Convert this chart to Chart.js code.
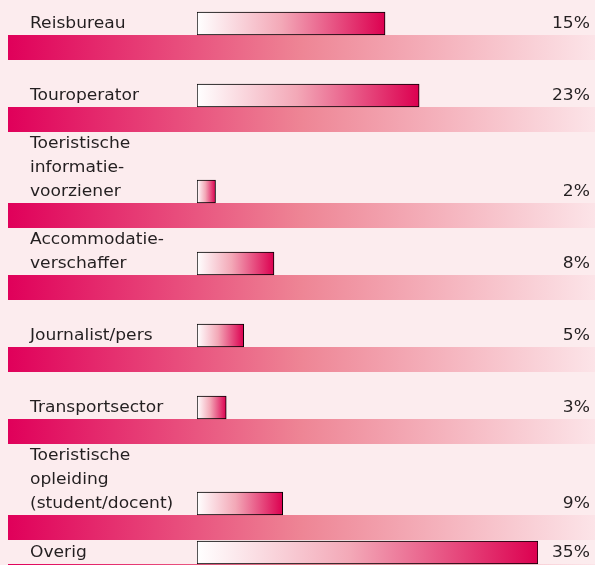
<!DOCTYPE html>
<html>
<head>
<meta charset="utf-8">
<script src="https://cdn.jsdelivr.net/npm/chart.js@4"></script>
<style>
  body { margin: 0; background: #fcecee; }
  #wrap { width: 595px; height: 565px; position: relative; }
</style>
</head>
<body>
<div id="wrap"><canvas id="chart"></canvas></div>
<script>
// categories (label lines as printed in the source)
const categories = [
  ['Reisbureau'],
  ['Touroperator'],
  ['Toeristische', 'informatie-', 'voorziener'],
  ['Accommodatie-', 'verschaffer'],
  ['Journalist/pers'],
  ['Transportsector'],
  ['Toeristische', 'opleiding', '(student/docent)'],
  ['Overig']
];
// bar lengths as measured in the picture (%)
const values = [19.3, 22.8, 1.9, 7.9, 4.8, 3.0, 8.8, 35];
// printed value labels
const pctLabels = ['15%', '23%', '2%', '8%', '5%', '3%', '9%', '35%'];

// row layout: a row grows with the number of label lines
const BAND = 25, BAR = 23;
const bottoms = [];
let yPos = 35;
categories.forEach((lines, i) => {
  if (i > 0) {
    const rowH = i === categories.length - 1 ? 24 : (lines.length >= 3 ? 71 : 47);
    yPos += BAND + rowH;
  }
  bottoms.push(yPos);
});
const centers = bottoms.map(b => b - BAR / 2);

function barFill(ctx) {
  const chart = ctx.chart;
  const xs = chart.scales.x;
  if (ctx.type !== 'data' || !xs) return '#e0004e';
  const x0 = xs.getPixelForValue(0);
  const x1 = xs.getPixelForValue(ctx.raw.x);
  if (!isFinite(x0) || !isFinite(x1) || x1 <= x0) return '#e0004e';
  const g = chart.ctx.createLinearGradient(x0, 0, x1, 0);
  g.addColorStop(0, '#ffffff');
  g.addColorStop(0.45, '#f3a8b7');
  g.addColorStop(1, '#dc0050');
  return g;
}

// wide text: the source font is an extended face
function wideText(c, text, x, y, align) {
  c.save();
  c.translate(x, y);
  c.scale(1.14, 1);
  c.textAlign = align;
  c.fillText(text, 0, 0);
  c.restore();
}

const rowDecor = {
  id: 'rowDecor',
  beforeDatasetsDraw(chart) {
    const c = chart.ctx;
    const ys = chart.scales.y;
    c.save();
    bottoms.forEach(b => {
      const top = ys.getPixelForValue(b);
      const g = c.createLinearGradient(8, 0, 595, 0);
      g.addColorStop(0, '#e0005a');
      g.addColorStop(0.5, '#ee8595');
      g.addColorStop(1, '#fce4e8');
      c.fillStyle = g;
      c.fillRect(8, top, 587, BAND);
    });
    c.restore();
  },
  afterDatasetsDraw(chart) {
    const c = chart.ctx;
    const ys = chart.scales.y;
    c.save();
    c.font = '15px "DejaVu Sans"';
    c.fillStyle = '#231f20';
    c.textBaseline = 'middle';
    categories.forEach((lines, i) => {
      const cy = ys.getPixelForValue(centers[i]) + 1;
      lines.forEach((t, k) => {
        wideText(c, t, 30, cy - (lines.length - 1 - k) * 24, 'left');
      });
      wideText(c, pctLabels[i], 590, cy, 'right');
    });
    c.restore();
  }
};

new Chart(document.getElementById('chart'), {
  type: 'bar',
  data: {
    datasets: [{
      data: values.map((v, i) => ({ x: v, y: centers[i] })),
      backgroundColor: barFill,
      borderColor: '#000000',
      borderWidth: 1,
      borderSkipped: false,
      barThickness: BAR
    }]
  },
  options: {
    indexAxis: 'y',
    responsive: true,
    maintainAspectRatio: false,
    animation: false,
    layout: { padding: { left: 197, right: 57, top: 0, bottom: 0 } },
    scales: {
      x: { type: 'linear', min: 0, max: 35, display: false },
      y: { type: 'linear', min: 0, max: 565, reverse: true, offset: false, display: false }
    },
    plugins: { legend: { display: false }, tooltip: { enabled: false } }
  },
  plugins: [rowDecor]
});
</script>
</body>
</html>
